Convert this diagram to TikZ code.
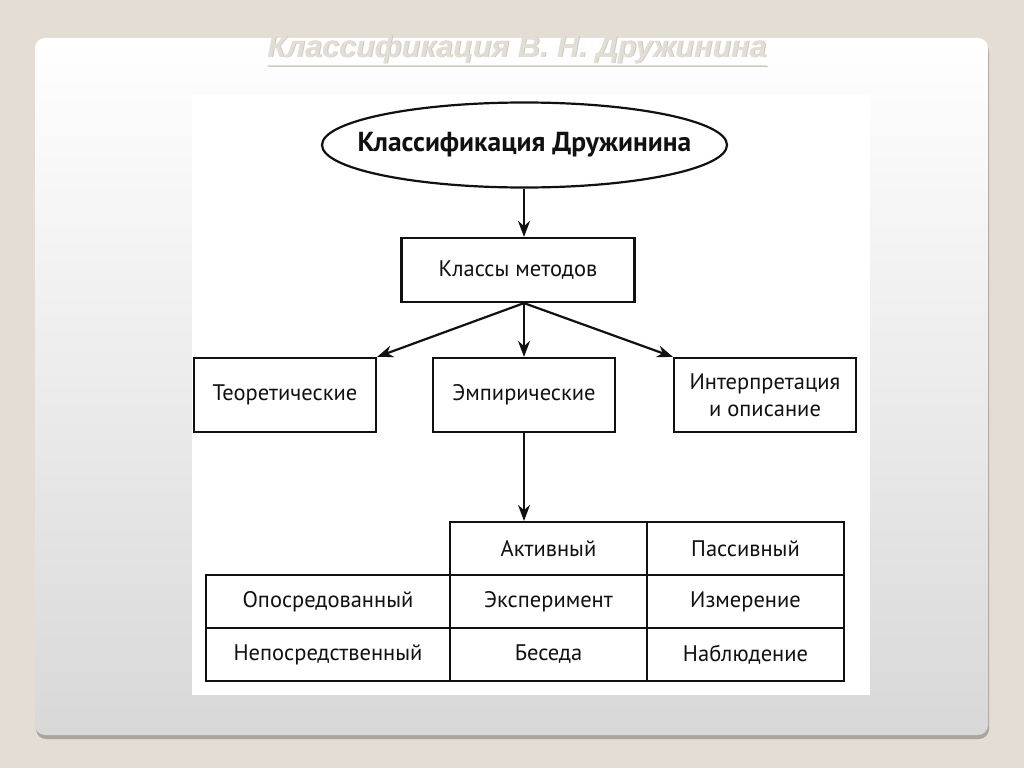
\documentclass[tikz,border=0pt]{standalone}
\usepackage{fontspec}
\setmainfont{PT Sans}
\newfontfamily\titlefont{Liberation Sans}
\usetikzlibrary{shapes.geometric,arrows.meta}
\definecolor{bg}{HTML}{E3DDD3}
\definecolor{panelbot}{HTML}{D8D8D8}
\definecolor{shadowc}{HTML}{A8A69F}
\definecolor{titlec}{HTML}{E2DED6}
\definecolor{titleshadow}{HTML}{CDC9C1}
\definecolor{ink}{HTML}{111111}
\begin{document}
\begin{tikzpicture}[x=1pt,y=-1pt,
  every node/.style={text=ink},
  box/.style={draw=ink,line width=2.2pt,minimum width=182pt,minimum height=74pt,inner sep=0pt,align=center,font=\fontsize{22.5}{27}\selectfont},
  cell/.style={draw=ink,line width=2.2pt,minimum width=197pt,minimum height=53pt,inner sep=0pt,font=\fontsize{22.5}{27}\selectfont},
  lcell/.style={cell,minimum width=244pt},
  arr/.style={draw=ink,line width=2.2pt,-{Stealth[length=16pt,width=12pt]}},
  ttl/.style={font=\titlefont\bfseries\itshape\fontsize{30.5}{34}\selectfont,anchor=base}]
\useasboundingbox (0,0) rectangle (1024,768);
\fill[bg] (0,0) rectangle (1024,768);
\fill[shadowc,rounded corners=10pt] (36,42) rectangle (989,739);
\shade[top color=white,bottom color=panelbot,rounded corners=10pt] (35,38) rectangle (988,735);
\fill[white] (192,95) rectangle (870,695);
% title
\node[ttl,text=titleshadow] (titlesh) at (518,58) {\underline{Классификация В. Н. Дружинина}};
\node[ttl,text=titlec] (title) at (517,57) {\underline{Классификация В. Н. Дружинина}};
% diagram
\node[ellipse,draw=ink,line width=2.2pt,minimum width=405pt,minimum height=85pt,inner xsep=-24pt,inner ysep=0pt,font=\bfseries\fontsize{27.5}{32}\selectfont] (root) at (524.5,145) {Классификация Дружинина};
\node[box,minimum width=233pt,minimum height=64pt] (cls) at (518,270) {Классы методов};
\node[box] (teor) at (285,395) {Теоретические};
\node[box] (emp) at (524,395) {Эмпирические};
\node[box] (interp) at (765,395) {Интерпретация\\и описание};
\node[cell] (act) at (548.5,548.5) {Активный};
\node[cell] (pas) at (745.5,548.5) {Пассивный};
\node[lcell] (opo) at (328,601.5) {Опосредованный};
\node[cell] (exp) at (548.5,601.5) {Эксперимент};
\node[cell] (izm) at (745.5,601.5) {Измерение};
\node[lcell] (nep) at (328,654.5) {Непосредственный};
\node[cell] (bes) at (548.5,654.5) {Беседа};
\node[cell] (nab) at (745.5,654.5) {Наблюдение};
\coordinate (fork) at (cls.south -| emp.north);
\draw[arr] (root.south -| emp.north) -- (emp.north |- cls.north);
\draw[arr] (fork) -- (teor.north east);
\draw[arr] (fork) -- (emp.north);
\draw[arr] (fork) -- (interp.north west);
\draw[arr] (emp.south) -- (emp.south |- act.north);
\end{tikzpicture}
\end{document}
